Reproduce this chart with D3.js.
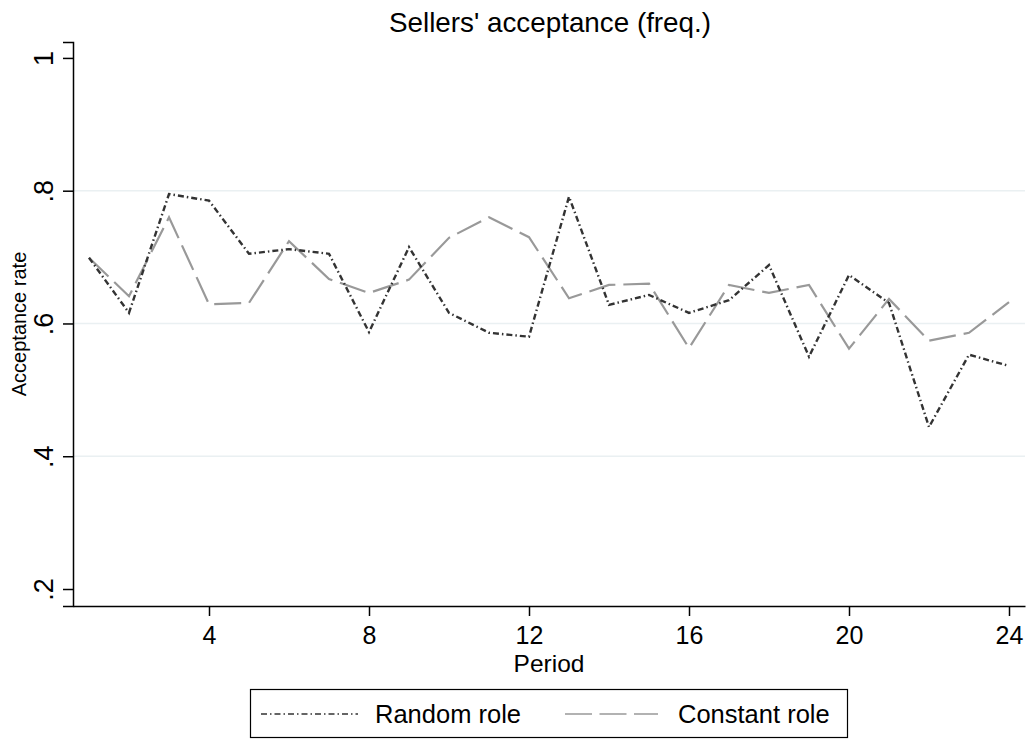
<!DOCTYPE html>
<html><head><meta charset="utf-8">
<script src="https://cdn.jsdelivr.net/npm/d3@7"></script>
<style>body{margin:0;background:#fff}svg{display:block}text{font-family:"Liberation Sans",Arial,sans-serif;fill:#000}</style>
</head><body>
<svg id="c" width="1027" height="739"></svg>
<script>
const periods = d3.range(1, 25);
const randomRole = [0.699,0.616,0.795,0.785,0.705,0.712,0.705,0.587,0.715,0.616,0.586,0.580,0.791,0.628,0.643,0.616,0.635,0.688,0.550,0.673,0.631,0.444,0.553,0.536];
const constantRole = [0.699,0.641,0.760,0.629,0.631,0.724,0.667,0.646,0.666,0.729,0.760,0.730,0.638,0.658,0.660,0.563,0.658,0.646,0.658,0.562,0.637,0.574,0.586,0.632];
const xTicks = [4,8,12,16,20,24];
const yTicks = [0.2,0.4,0.6,0.8,1];
const yGrid = [0.4,0.6,0.8];
const seriesNames = ["Random role","Constant role"];

const svg = d3.select("#c");
const x = d3.scaleLinear().domain([0.6, 24.4]).range([73, 1025]);
const y = d3.scaleLinear().domain([0.1744, 1.024]).range([606, 42]);

svg.append("g").selectAll("line").data(yGrid).join("line")
  .attr("x1", 73).attr("x2", 1025).attr("y1", d=>y(d)).attr("y2", d=>y(d))
  .attr("stroke", "#eaf0f2").attr("stroke-width", 1.5);

const fmt = d => d === 1 ? "1" : String(d).replace(/^0/, "");

const yAxis = svg.append("g").attr("transform", "translate(73,0)")
  .call(d3.axisLeft(y).tickValues(yTicks).tickSize(10).tickFormat(fmt));
yAxis.select(".domain").attr("stroke", "#000").attr("stroke-width", 1.5);
yAxis.selectAll(".tick line").attr("stroke", "#000").attr("stroke-width", 1.5);
yAxis.selectAll(".tick text").remove();
yAxis.selectAll(".tick").append("text")
  .attr("transform", "translate(-20,0) rotate(-90)")
  .attr("text-anchor", "middle").attr("font-size", 27).text(fmt);

const xAxis = svg.append("g").attr("transform", "translate(0,606)")
  .call(d3.axisBottom(x).tickValues(xTicks).tickSize(10).tickSizeOuter(0));
xAxis.select(".domain").attr("stroke", "#000").attr("stroke-width", 1.5);
xAxis.selectAll(".tick line").attr("stroke", "#000").attr("stroke-width", 1.5);
xAxis.selectAll(".tick text").attr("font-size", 25).attr("font-family", "Liberation Sans, Arial, sans-serif").attr("fill", "#000").attr("dy", null).attr("y", 37.5);

const line = d3.line().x((d,i)=>x(periods[i])).y(d=>y(d));
svg.append("path").datum(constantRole).attr("d", line).attr("fill","none")
  .attr("stroke","#999").attr("stroke-width",2.2).attr("stroke-dasharray","27,8");
svg.append("path").datum(randomRole).attr("d", line).attr("fill","none")
  .attr("stroke","#333").attr("stroke-width",2.4).attr("stroke-dasharray","6,3,1.5,3");

svg.append("text").attr("x", 550).attr("y", 32).attr("text-anchor","middle").attr("font-size", 27.8).text("Sellers' acceptance (freq.)");
svg.append("text").attr("x", 549).attr("y", 672).attr("text-anchor","middle").attr("font-size", 24.5).text("Period");
svg.append("text").attr("transform","translate(26,324) rotate(-90)").attr("text-anchor","middle").attr("font-size", 20).text("Acceptance rate");

// legend
svg.append("rect").attr("x",250.5).attr("y",689.5).attr("width",597).attr("height",48).attr("fill","#fff").attr("stroke","#000").attr("stroke-width",1.2);
svg.append("line").attr("x1",261).attr("x2",358).attr("y1",714).attr("y2",714).attr("stroke","#333").attr("stroke-width",1.5).attr("stroke-dasharray","6,3,1.5,3");
svg.append("text").attr("x",375).attr("y",723).attr("font-size",25.5).text(seriesNames[0]);
svg.append("line").attr("x1",565).attr("x2",658).attr("y1",714).attr("y2",714).attr("stroke","#999").attr("stroke-width",1.5).attr("stroke-dasharray","27,7.5");
svg.append("text").attr("x",678).attr("y",723).attr("font-size",25.5).text(seriesNames[1]);
</script>
</body></html>
